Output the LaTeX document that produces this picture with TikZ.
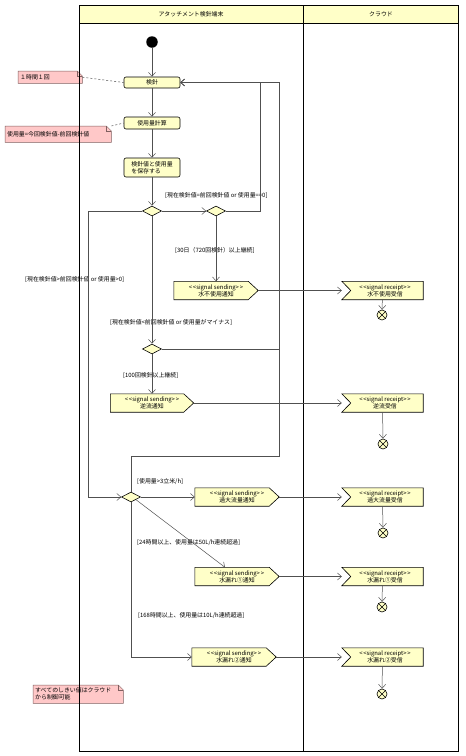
\documentclass[tikz,border=0pt]{standalone}
\usepackage{fontspec}
\setmainfont{Noto Sans CJK JP}
\usetikzlibrary{arrows.meta,shapes.geometric}
\definecolor{nodefill}{HTML}{FFFFC8}
\definecolor{notefill}{HTML}{FFC8C8}
\definecolor{lanefill}{HTML}{FFFFC8}
\definecolor{linecol}{HTML}{505050}
\definecolor{notedraw}{HTML}{806060}
\pgfdeclarelayer{notelayer}
\pgfdeclarelayer{lanes}
\pgfdeclarelayer{bg}
\pgfsetlayers{notelayer,lanes,bg,main}
\newcommand{\sigsend}{<\kern0.8pt<signal sending>\kern0.8pt>}
\newcommand{\sigrecv}{<\kern0.8pt<signal receipt>\kern0.8pt>}
\tikzset{
  every node/.style={font=\fontsize{5.9}{7}\selectfont},
  act/.style={draw=black, fill=nodefill, rounded corners=2pt, minimum width=56pt, inner sep=1pt, line width=0.6pt},
  dec/.style={draw=black, fill=nodefill, diamond, minimum width=19pt, minimum height=10pt, inner sep=0pt, line width=0.6pt},
  sig/.style={minimum height=18pt, inner sep=0pt, align=center},
  flow/.style={draw=linecol, line width=0.5pt, -{Straight Barb[length=4pt,width=7pt]}},
  plain/.style={draw=linecol, line width=0.5pt},
  guard/.style={anchor=west, inner sep=0pt},
  note/.style={inner sep=2pt, anchor=north west, align=left},
  fin/.style={circle, draw=black, fill=nodefill, minimum size=10pt, inner sep=0pt, line width=0.6pt},
  shapeline/.style={draw=black, fill=nodefill, line width=0.6pt},
}
\newcommand{\sendshape}[1]{\draw[shapeline] (#1.north west) -- ([xshift=-10pt]#1.north east) -- (#1.east) -- ([xshift=-10pt]#1.south east) -- (#1.south west) -- cycle;}
\newcommand{\recvshape}[1]{\draw[shapeline] (#1.north west) -- (#1.north east) -- (#1.south east) -- (#1.south west) -- ([xshift=9pt]#1.west) -- cycle;}
\newcommand{\noteshape}[1]{\draw[draw=notedraw, fill=notefill, line width=0.5pt] (#1.north west) -- ([xshift=-5pt]#1.north east) -- ([yshift=-5pt]#1.north east) -- (#1.south east) -- (#1.south west) -- cycle;
  \draw[draw=notedraw, line width=0.5pt] ([xshift=-5pt]#1.north east) |- ([yshift=-5pt]#1.north east);}
\newcommand{\crossfin}[1]{\draw[line width=0.6pt] (#1.north west) -- (#1.south east) (#1.north east) -- (#1.south west);}
\begin{document}
\begin{tikzpicture}[x=1pt,y=-1pt]
\useasboundingbox (0,0) rectangle (466,756);
% swimlanes
\begin{pgfonlayer}{lanes}
\fill[lanefill] (79,5) rectangle (458,23);
\draw[line width=0.8pt] (79,5) rectangle (458,751);
\draw[line width=0.8pt] (79,23) -- (458,23);
\draw[line width=0.8pt] (303,5) -- (303,751);
\end{pgfonlayer}
\node (lane1) at (191,14) {アタッチメント検針端末};
\node (lane2) at (381,14) {クラウド};
% activity nodes
\node[fill=black, circle, minimum size=11.5pt, inner sep=0pt] (init) at (152,42) {};
\node[act, minimum height=11pt] (k) at (152,82.5) {検針};
\node[act, minimum height=12pt] (c) at (152,123) {使用量計算};
\node[act, minimum height=19pt, align=left] (sv) at (152,167.5) {検針値と使用量\\を保存する};
\node[dec] (d1) at (152,211) {};
\node[dec] (d2) at (216,211) {};
\node[dec] (d3) at (152,349) {};
\node[dec] (d4) at (131,497) {};
% signal sending
\node[sig, minimum width=84pt] (s1) at (216,290.5) {\sigsend\\水不使用通知};
\node[sig, minimum width=83pt] (s2) at (152,403) {\sigsend\\逆流通知};
\node[sig, minimum width=84pt] (s3) at (237,497) {\sigsend\\過大流量通知};
\node[sig, minimum width=84pt] (s4) at (237,576.5) {\sigsend\\水漏れ①通知};
\node[sig, minimum width=84pt] (s5) at (234,657) {\sigsend\\水漏れ②通知};
% signal receipt
\node[sig, minimum width=81pt] (r1) at (382.5,290.5) {\hspace*{5pt}\sigrecv\\\hspace*{5pt}水不使用受信};
\node[sig, minimum width=81pt] (r2) at (382.5,403) {\hspace*{5pt}\sigrecv\\\hspace*{5pt}逆流受信};
\node[sig, minimum width=81pt] (r3) at (382.5,497) {\hspace*{5pt}\sigrecv\\\hspace*{5pt}過大流量受信};
\node[sig, minimum width=81pt] (r4) at (382.5,576.5) {\hspace*{5pt}\sigrecv\\\hspace*{5pt}水漏れ①受信};
\node[sig, minimum width=81pt] (r5) at (382.5,657) {\hspace*{5pt}\sigrecv\\\hspace*{5pt}水漏れ②受信};
% final nodes
\node[fin] (f1) at (382,315) {};
\node[fin] (f2) at (383,444) {};
\node[fin] (f3) at (383,533) {};
\node[fin] (f4) at (382,607) {};
\node[fin] (f5) at (382,694) {};
\crossfin{f1}\crossfin{f2}\crossfin{f3}\crossfin{f4}\crossfin{f5}
\begin{pgfonlayer}{bg}
\sendshape{s1}\sendshape{s2}\sendshape{s3}\sendshape{s4}\sendshape{s5}
\recvshape{r1}\recvshape{r2}\recvshape{r3}\recvshape{r4}\recvshape{r5}
\end{pgfonlayer}
% notes
\node[note, text width=60pt, minimum height=12pt] (n1) at (18,71) {１時間１回};
\node[note, text width=102pt, minimum height=16pt] (n2) at (5,126) {使用量=今回検針値-前回検針値};
\node[note, text width=86pt, minimum height=18pt] (n3) at (33,685) {すべてのしきい値はクラウド\\から制御可能};
\begin{pgfonlayer}{notelayer}
\noteshape{n1}\noteshape{n2}\noteshape{n3}
\end{pgfonlayer}
\draw[plain, dash pattern=on 2pt off 2pt] (n1.east) -- (k.west);
\draw[plain, dash pattern=on 2pt off 2pt] (n2.north east) -- (c.west);
% guards
\node[guard] (g1) at (165,196) {[現在検針値=前回検針値 or 使用量==0]};
\node[guard] (g2) at (175,250) {[30日（720回検針）以上継続]};
\node[guard] (g3) at (25,280) {[現在検針値>前回検針値 or 使用量>0]};
\node[guard] (g4) at (110,322) {[現在検針値<前回検針値 or 使用量がマイナス]};
\node[guard] (g5) at (123,376) {[100回検針以上継続]};
\node[guard] (g6) at (137,482) {[使用量>3立米/h]};
\node[guard] (g7) at (137,543) {[24時間以上、使用量は50L/h連続超過]};
\node[guard] (g8) at (138,616) {[168時間以上、使用量は10L/h連続超過]};
% connectors
\draw[flow] (init) -- (k);
\draw[flow] (k) -- (c);
\draw[flow] (c) -- (sv);
\draw[flow] (sv) -- (d1);
\draw[flow] (d1) -- (d2);
\draw[flow] (d2.east) -- (260,211) |- (k.east);
\draw[flow] (d3.east) -- (279,349) |- (k.east);
\draw[flow] (d4.north) |- (279,456) |- (k.east);
\draw[flow] (d1.west) -- (88,211) |- (d4.west);
\draw[flow] (d1) -- (d3);
\draw[flow] (d2) -- (s1);
\draw[flow] (d3) -- (s2);
\draw[flow] (d4) -- (s3);
\draw[flow] (d4.south east) -- ([xshift=-12pt]s4.north);
\draw[flow] (d4.south) |- (s5.west);
\draw[flow] (s1.east) -- (r1.west);
\draw[flow] (s2.east) -- (r2.west);
\draw[flow] (s3.east) -- (r3.west);
\draw[flow] (s4.east) -- (r4.west);
\draw[flow] (s5.east) -- (r5.west);
\draw[flow] (r1) -- (f1);
\draw[flow] (r2) -- (f2);
\draw[flow] (r3) -- (f3);
\draw[flow] (r4) -- (f4);
\draw[flow] (r5) -- (f5);
\end{tikzpicture}
\end{document}
